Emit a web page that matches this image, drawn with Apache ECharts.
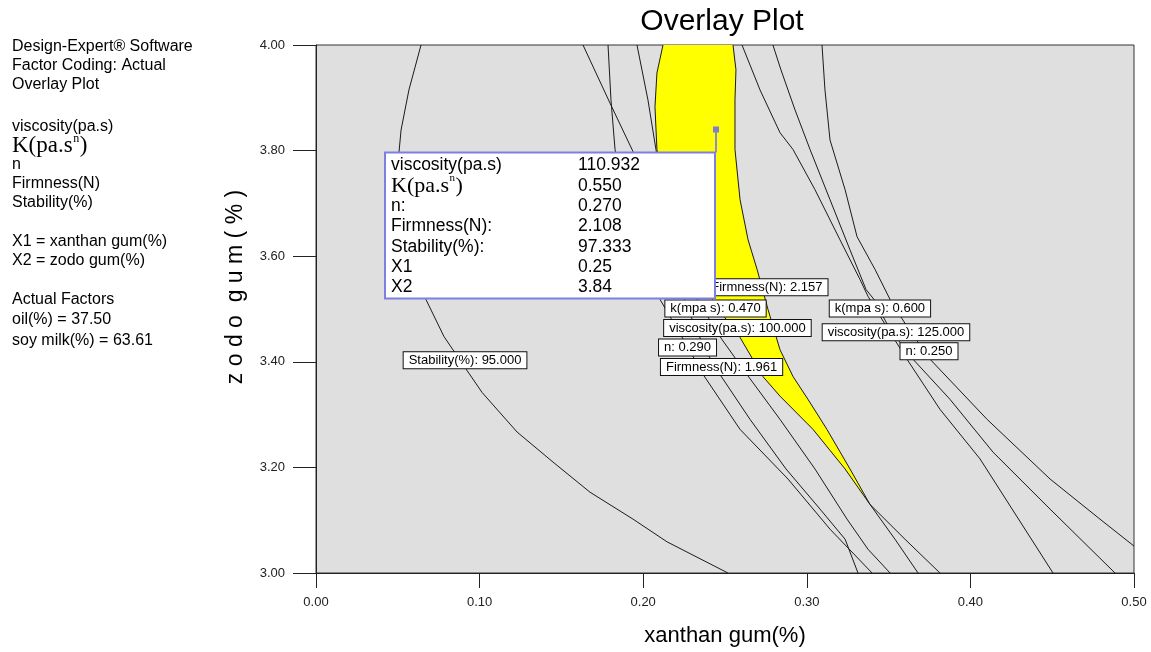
<!DOCTYPE html>
<html><head><meta charset="utf-8">
<script src="https://cdn.jsdelivr.net/npm/echarts@6/dist/echarts.min.js"></script>
<style>html,body{margin:0;padding:0;background:#fff}#c{width:1151px;height:652px}</style>
</head><body><div id="c"></div>
<script>
// ---- contour lines (xanthan gum %, zodo gum %) ----
const stability95 = [[0.0642,4.000],[0.0568,3.915],[0.0520,3.839],[0.0507,3.796],[0.0507,3.726],[0.0532,3.650],[0.0587,3.584],[0.0672,3.518],[0.0782,3.448],[0.0911,3.389],[0.1015,3.342],[0.1229,3.267],[0.1449,3.210],[0.1675,3.153],[0.1938,3.102],[0.2146,3.059],[0.2518,3.000]];
const firmness1961 = [[0.1632,4.000],[0.1797,3.890],[0.1938,3.798],[0.2072,3.688],[0.2176,3.594],[0.2274,3.499],[0.2378,3.423],[0.2469,3.376],[0.2653,3.291],[0.2873,3.197],[0.3081,3.121],[0.3234,3.064],[0.3313,3.000]];
const n0290 = [[0.1785,4.000],[0.1803,3.896],[0.1828,3.802],[0.1889,3.707],[0.1980,3.612],[0.2103,3.518],[0.2274,3.427],[0.2366,3.376],[0.2592,3.272],[0.2885,3.178],[0.3142,3.083],[0.3399,3.000]];
const visc100 = [[0.1962,4.000],[0.2029,3.896],[0.2078,3.802],[0.2127,3.707],[0.2213,3.612],[0.2329,3.518],[0.2482,3.442],[0.2634,3.376],[0.2836,3.291],[0.3050,3.197],[0.3246,3.102],[0.3374,3.045],[0.3509,3.000]];
const k0470 = [[0.2121,4.000],[0.2084,3.947],[0.2072,3.883],[0.2084,3.802],[0.2133,3.726],[0.2225,3.631],[0.2347,3.556],[0.2457,3.501],[0.2592,3.446],[0.2732,3.372],[0.2836,3.335],[0.3038,3.272],[0.3234,3.197],[0.3386,3.130],[0.3600,3.064],[0.3814,3.000]];
const firmness2157 = [[0.2549,4.000],[0.2567,3.953],[0.2561,3.896],[0.2561,3.802],[0.2592,3.707],[0.2641,3.631],[0.2696,3.575],[0.2763,3.499],[0.2836,3.423],[0.2916,3.372],[0.3007,3.329],[0.3123,3.272],[0.3264,3.197],[0.3386,3.130],[0.3539,3.064],[0.3680,3.000]];
const k0600 = [[0.2604,4.000],[0.2714,3.915],[0.2836,3.834],[0.2916,3.802],[0.3050,3.726],[0.3203,3.631],[0.3325,3.556],[0.3374,3.524],[0.3478,3.471],[0.3612,3.405],[0.3814,3.310],[0.4059,3.216],[0.4505,3.000]];
const visc125 = [[0.2793,4.000],[0.2842,3.953],[0.2928,3.877],[0.3020,3.802],[0.3142,3.707],[0.3264,3.612],[0.3362,3.537],[0.3411,3.518],[0.3509,3.461],[0.3649,3.405],[0.3875,3.329],[0.4138,3.229],[0.4487,3.121],[0.4884,3.000]];
const n0250 = [[0.3093,4.000],[0.3111,3.915],[0.3142,3.820],[0.3234,3.726],[0.3307,3.637],[0.3417,3.575],[0.3509,3.518],[0.3612,3.467],[0.3753,3.405],[0.4102,3.291],[0.4487,3.178],[0.4792,3.102],[0.5000,3.051]];

// ---- contour labels ----
const labelTexts = ['Stability(%): 95.000','Firmness(N): 2.157','k(mpa s): 0.470','viscosity(pa.s): 100.000','n: 0.290','Firmness(N): 1.961','k(mpa s): 0.600','viscosity(pa.s): 125.000','n: 0.250'];
const labelX = [0.0911,0.2756,0.2442,0.2576,0.2271,0.2479,0.3447,0.3545,0.3747];
const labelY = [3.403,3.541,3.501,3.464,3.427,3.390,3.501,3.456,3.420];

// ---- flag point and its readout ----
const flagX = 0.2445, flagY = 3.84;
const infoNames = ['viscosity(pa.s)','K','n:','Firmness(N):','Stability(%):','X1','X2'];
const infoValues = ['110.932','0.550','0.270','2.108','97.333','0.25','3.84'];

// ---- side panel text ----
const panelLines = [
  ['Design-Expert\u00ae Software',47],['Factor Coding: Actual',66],['Overlay Plot',85],
  ['viscosity(pa.s)',127],['K',146],['n',165],['Firmness(N)',184],['Stability(%)',203],
  ['X1 = xanthan gum(%)',242],['X2 = zodo gum(%)',261],
  ['Actual Factors',300],['oil(%) = 37.50',320],['soy milk(%) = 63.61',341]
];

const SANS = "'Liberation Sans', Arial, sans-serif";
const SERIF = "'Liberation Serif', 'Times New Roman', serif";

const chart = echarts.init(document.getElementById('c'), null, {renderer:'canvas'});

const contours = [stability95, firmness1961, n0290, visc100, k0470, firmness2157, k0600, visc125, n0250];
const feasible = k0470.slice(0, 14).concat(firmness2157.slice(0, 14).reverse());

const series = [{
  type: 'custom', clip: true, z: 1, silent: true,
  data: [0],
  renderItem: function (params, api) {
    return { type: 'polygon', shape: { points: feasible.map(p => api.coord(p)) }, style: { fill: '#ffff00', stroke: 'none' } };
  }
}];
contours.forEach(c => series.push({
  type: 'line', data: c, symbol: 'none', smooth: false, clip: true, z: 2, silent: true,
  lineStyle: { color: '#1a1a1a', width: 1 }
}));
series.push({
  type: 'scatter', z: 5, symbolSize: 1, itemStyle: { color: 'transparent', opacity: 1 }, silent: true,
  data: labelTexts.map((t, i) => ({ value: [labelX[i], labelY[i]], name: t })),
  label: {
    show: true, position: 'inside', formatter: p => p.name, opacity: 1,
    fontSize: 13, fontFamily: SANS, color: '#000',
    backgroundColor: '#ffffff', borderColor: '#111', borderWidth: 1, padding: [2, 5, 1, 5]
  }
});

chart.setOption({
  animation: false,
  grid: { left: 316, right: 17, top: 45, bottom: 78, show: true, backgroundColor: '#dfdfdf', borderColor: '#333', borderWidth: 1 },
  xAxis: {
    type: 'value', min: 0, max: 0.5, interval: 0.1,
    axisLine: { show: true, lineStyle: { color: '#222', width: 1 } },
    axisTick: { show: true, length: 15, lineStyle: { color: '#222' } },
    axisLabel: { margin: 23, fontSize: 13, fontFamily: SANS, color: '#222', formatter: v => v.toFixed(2) },
    splitLine: { show: false },
    name: 'xanthan gum(%)', nameLocation: 'middle', nameGap: 63,
    nameTextStyle: { fontSize: 22, fontFamily: SANS, color: '#000', verticalAlign: 'middle' }
  },
  yAxis: {
    type: 'value', min: 3, max: 4, interval: 0.2,
    axisLine: { show: true, lineStyle: { color: '#222', width: 1 } },
    axisTick: { show: true, length: 23, lineStyle: { color: '#222' } },
    axisLabel: { margin: 31, fontSize: 13, fontFamily: SANS, color: '#222', formatter: v => v.toFixed(2) },
    splitLine: { show: false }
  },
  series: series
});

// ---- annotations ----
const mctx = document.createElement('canvas').getContext('2d');
function measure(t, font) { mctx.font = font; return mctx.measureText(t).width; }
function kText(x, yc, size, z) {
  const f1 = size + 'px ' + SERIF;
  const s2 = Math.round(size * 0.5);
  const f2 = s2 + 'px ' + SERIF;
  const w1 = measure('K(pa.s', f1);
  const w2 = measure('n', f2);
  return [
    { type: 'text', x: x, y: yc, z: z, style: { text: 'K(pa.s', font: f1, fill: '#000', align: 'left', verticalAlign: 'middle', textAlign: 'left', textVerticalAlign: 'middle' } },
    { type: 'text', x: x + w1 + 0.5, y: yc - size * 0.33, z: z, style: { text: 'n', font: f2, fill: '#000', align: 'left', verticalAlign: 'middle', textAlign: 'left', textVerticalAlign: 'middle' } },
    { type: 'text', x: x + w1 + w2 + 1, y: yc, z: z, style: { text: ')', font: f1, fill: '#000', align: 'left', verticalAlign: 'middle', textAlign: 'left', textVerticalAlign: 'middle' } }
  ];
}
function txt(t, x, y, size, z) {
  return { type: 'text', x: x, y: y, z: z,
    style: { text: t, font: size + 'px ' + SANS, fill: '#000', align: 'left', verticalAlign: 'middle', textAlign: 'left', textVerticalAlign: 'middle' } };
}

const g = [];
g.push({ type: 'text', x: 722, y: 22, z: 10, style: { text: 'Overlay Plot', font: '30px ' + SANS, fill: '#000', align: 'center', verticalAlign: 'middle', textAlign: 'center', textVerticalAlign: 'middle' } });
g.push({ type: 'text', x: 236, y: 287, rotation: Math.PI / 2, z: 10, style: { text: 'z o d o  g u m ( % )', font: '23px ' + SANS, fill: '#000', align: 'center', verticalAlign: 'middle', textAlign: 'center', textVerticalAlign: 'middle' } });
panelLines.forEach(([t, y]) => {
  if (t === 'K') kText(12, y, 23, 10).forEach(e => g.push(e));
  else g.push(txt(t, 12, y, 16, 10));
});

const p = chart.convertToPixel({ gridIndex: 0 }, [flagX, flagY]);
const bw = 330, bh = 146;
const bx = p[0] - 1 - bw, by = p[1] + 23;
g.push({ type: 'line', z: 100, shape: { x1: p[0], y1: p[1], x2: p[0], y2: by }, style: { stroke: '#8c8cd6', lineWidth: 2 } });
g.push({ type: 'rect', z: 100, shape: { x: p[0] - 3, y: p[1] - 3, width: 6, height: 6 }, style: { fill: '#7f7fcf' } });
g.push({ type: 'rect', z: 100, shape: { x: bx, y: by, width: bw, height: bh }, style: { fill: '#fff', stroke: '#7f7fe0', lineWidth: 2 } });
infoNames.forEach((t, i) => {
  const yc = by + 13 + i * 20.3;
  if (t === 'K') kText(bx + 6, yc, 22, 101).forEach(e => g.push(e));
  else g.push(txt(t, bx + 6, yc, 17.5, 101));
  g.push(txt(infoValues[i], bx + 193, yc, 17.5, 101));
});

chart.setOption({ graphic: { elements: g } });
</script>
</body></html>
